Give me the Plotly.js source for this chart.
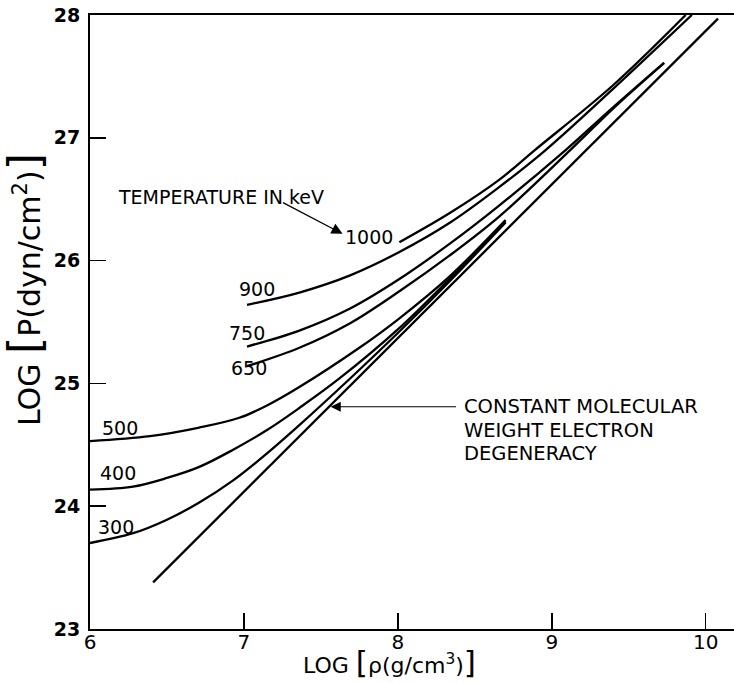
<!DOCTYPE html>
<html>
<head>
<meta charset="utf-8">
<script src="https://cdn.plot.ly/plotly-3.0.1.min.js"></script>
<style>html,body{margin:0;padding:0;background:#fff;}#chart{width:734px;height:683px;}</style>
</head>
<body>
<div id="chart"></div>
<script>
// LOG rho (g/cm^3) and LOG P (dyn/cm^2)
const degX = [6.41, 10.08];
const degY = [23.38, 27.97];

const t300X = [6.00, 6.28, 6.50, 6.71, 6.93, 7.15, 7.36, 7.69, 8.00, 8.335, 8.70];
const t300Y = [23.70, 23.78, 23.89, 24.03, 24.21, 24.43, 24.66, 25.04, 25.41, 25.83, 26.31];

const t400X = [6.00, 6.28, 6.50, 6.71, 6.93, 7.15, 7.36, 7.61, 8.00, 8.335, 8.70];
const t400Y = [24.135, 24.16, 24.23, 24.32, 24.46, 24.62, 24.80, 25.03, 25.44, 25.85, 26.32];

const t500X = [6.00, 6.39, 6.71, 6.97, 7.15, 7.36, 7.75, 8.00, 8.335, 8.70];
const t500Y = [24.53, 24.57, 24.64, 24.72, 24.82, 24.97, 25.29, 25.52, 25.87, 26.33];

const t650X = [7.02, 7.36, 7.69, 8.01, 8.335, 8.66, 9.12, 9.40, 9.73];
const t650Y = [25.14, 25.29, 25.49, 25.75, 26.04, 26.36, 26.90, 27.24, 27.61];

const t750X = [7.02, 7.36, 7.69, 8.01, 8.34, 8.66, 9.09, 9.40, 9.73];
const t750Y = [25.30, 25.43, 25.61, 25.85, 26.14, 26.45, 26.90, 27.25, 27.61];

const t900X = [7.02, 7.36, 7.69, 8.01, 8.34, 8.66, 8.96, 9.40, 9.91];
const t900Y = [25.64, 25.74, 25.88, 26.07, 26.31, 26.60, 26.90, 27.40, 28.00];

const t1000X = [8.01, 8.34, 8.66, 8.89, 9.40, 9.87];
const t1000Y = [26.15, 26.39, 26.66, 26.90, 27.43, 28.00];

const xTickVals = [6, 7, 8, 9, 10];
const xTickText = ['6', '7', '8', '9', '10'];
const yTickVals = [23, 24, 25, 26, 27, 28];
const yTickText = ['23', '24', '25', '26', '27', '28'];

const FONT = 'DejaVu Sans, Arial, sans-serif';
const lineStyle = {color: '#000', width: 2.3, shape: 'spline', smoothing: 1.0};

function curve(x, y, name) {
  return {x: x, y: y, name: name, type: 'scatter', mode: 'lines', line: lineStyle,
          hoverinfo: 'x+y+name', showlegend: false};
}

const traces = [
  {x: degX, y: degY, type: 'scatter', mode: 'lines', name: 'degeneracy',
   line: {color: '#000', width: 2.3}, showlegend: false},
  curve(t300X, t300Y, '300 keV'),
  curve(t400X, t400Y, '400 keV'),
  curve(t500X, t500Y, '500 keV'),
  curve(t650X, t650Y, '650 keV'),
  curve(t750X, t750Y, '750 keV'),
  curve(t900X, t900Y, '900 keV'),
  curve(t1000X, t1000Y, '1000 keV')
];

function lab(text, x, y, size, anchor) {
  return {text: text, x: x, y: y, xref: 'x', yref: 'y', showarrow: false,
          xanchor: anchor || 'center', yanchor: 'middle',
          font: {family: FONT, size: size || 19, color: '#000'}};
}

const annotations = [
  lab('TEMPERATURE IN keV', 6.848, 26.52, 19),
  lab('1000', 7.810, 26.194),
  lab('900', 7.082, 25.771),
  lab('750', 7.017, 25.413),
  lab('650', 7.030, 25.128),
  lab('500', 6.198, 24.640),
  lab('400', 6.179, 24.273),
  lab('300', 6.166, 23.834),
  lab('CONSTANT MOLECULAR', 8.417, 24.81, 19.5, 'left'),
  lab('WEIGHT ELECTRON', 8.417, 24.615, 19.5, 'left'),
  lab('DEGENERACY', 8.417, 24.43, 19.5, 'left'),
  {text: '', x: 7.641, y: 26.218, ax: 7.244, ay: 26.478, xref: 'x', yref: 'y',
   axref: 'x', ayref: 'y', showarrow: true, arrowhead: 2, arrowsize: 1.7,
   arrowwidth: 1.3, arrowcolor: '#000', standoff: 0, startstandoff: 0},
  {text: '', x: 7.563, y: 24.81, ax: 8.388, ay: 24.81, xref: 'x', yref: 'y',
   axref: 'x', ayref: 'y', showarrow: true, arrowhead: 2, arrowsize: 1.7,
   arrowwidth: 1.2, arrowcolor: '#000', standoff: 0, startstandoff: 0},
  {text: 'LOG <span style="font-size:44px">[</span>P(dyn/cm<sup>2</sup>)<span style="font-size:44px">]</span>',
   x: -0.102, y: 0.5525, xref: 'paper', yref: 'paper', showarrow: false,
   textangle: -90, xanchor: 'center', yanchor: 'middle',
   font: {family: FONT, size: 30, color: '#000'}},
  {text: 'LOG <span style="font-size:31px">[</span>ρ(g/cm<sup>3</sup>)<span style="font-size:31px">]</span>',
   x: 0.4654, y: -0.054, xref: 'paper', yref: 'paper', showarrow: false,
   xanchor: 'center', yanchor: 'middle',
   font: {family: FONT, size: 22, color: '#000'}}
];

const layout = {
  width: 734, height: 683,
  margin: {l: 90, r: 0, t: 15, b: 54, pad: 0},
  paper_bgcolor: '#fff', plot_bgcolor: '#fff',
  showlegend: false,
  font: {family: FONT, color: '#000'},
  xaxis: {
    range: [6, 10.184], showgrid: false, zeroline: false,
    showline: true, linecolor: '#000', linewidth: 2, mirror: true,
    ticks: 'inside', ticklen: 16, tickwidth: 1.6, tickcolor: '#000',
    tickmode: 'array', tickvals: xTickVals, ticktext: xTickText,
    tickfont: {family: FONT, size: 20, color: '#000'},
    ticklabelstandoff: -6
  },
  yaxis: {
    range: [23, 28], showgrid: false, zeroline: false,
    showline: true, linecolor: '#000', linewidth: 2, mirror: false,
    ticks: 'inside', ticklen: 16, tickwidth: 1.6, tickcolor: '#000',
    tickmode: 'array', tickvals: yTickVals, ticktext: yTickText,
    tickfont: {family: FONT, size: 19, color: '#000', weight: 'bold'},
    ticklabelstandoff: 4
  },
  annotations: annotations
};

Plotly.newPlot('chart', traces, layout, {staticPlot: true, displayModeBar: false});
</script>
</body>
</html>
